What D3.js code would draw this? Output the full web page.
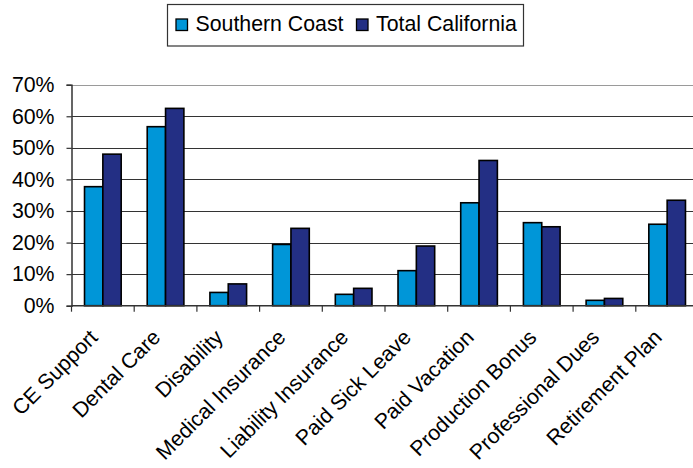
<!DOCTYPE html>
<html><head><meta charset="utf-8">
<script src="https://cdn.jsdelivr.net/npm/d3@7"></script>
<style>body{margin:0;background:#fff;} svg{display:block;}</style>
</head><body>
<svg id="c" width="693" height="468"></svg>
<script>
const categories = ["CE Support","Dental Care","Disability","Medical Insurance","Liability Insurance","Paid Sick Leave","Paid Vacation","Production Bonus","Professional Dues","Retirement Plan"];
const seriesNames = ["Southern Coast","Total California"];
const southernCoast = [0.377,0.567,0.042,0.194,0.036,0.111,0.326,0.263,0.017,0.258];
const totalCalifornia = [0.480,0.625,0.069,0.245,0.055,0.189,0.460,0.250,0.023,0.334];
const yTicks = [0,0.1,0.2,0.3,0.4,0.5,0.6,0.7];
const colors = ["#0096D8","#232F84"];

const svg = d3.select("#c");
const font = "Liberation Sans, Arial, sans-serif";
const fs = 21.3;
const x0 = 71.5, x1e = 698.5, yTop = 84.7, yBot = 305.7;
const x = d3.scaleBand().domain(categories).range([x0, x1e]).padding(0);
const xs = d3.scaleBand().domain(seriesNames).range([0, x.bandwidth()]).paddingInner(0).paddingOuter(0.71);
const y = d3.scaleLinear().domain([0,0.7]).range([yBot, yTop]);

// gridlines
svg.append("g").selectAll("line").data(yTicks.filter(d=>d>0)).join("line")
  .attr("x1", x0).attr("x2", 693)
  .attr("y1", d=>Math.round(y(d))+0.5).attr("y2", d=>Math.round(y(d))+0.5)
  .attr("stroke", d=> d===0.7 ? "#9a9a9a" : "#333").attr("stroke-width", 1.2);

// bars
const data = categories.map((c,i)=>({c, vals:[southernCoast[i], totalCalifornia[i]]}));
const g = svg.append("g");
data.forEach(d=>{
  d.vals.forEach((v,j)=>{
    g.append("rect")
      .attr("x", x(d.c)+xs(seriesNames[j]))
      .attr("y", y(v))
      .attr("width", xs.bandwidth())
      .attr("height", yBot - y(v))
      .attr("fill", colors[j])
      .attr("stroke", "#000").attr("stroke-width", 1.6);
  });
});

// y axis
const yAxis = d3.axisLeft(y).tickValues(yTicks).tickFormat(d3.format(".0%")).tickSizeOuter(0).tickSize(5).tickPadding(12);
const ya = svg.append("g").attr("transform", `translate(${x0},0)`).call(yAxis);
ya.select(".domain").attr("stroke","#333").attr("stroke-width",1.5);
ya.selectAll(".tick line").attr("stroke","#333").attr("stroke-width",1.2);
ya.selectAll("text").attr("font-family", font).attr("font-size", fs).attr("fill","#000");

// x axis
const bounds = categories.map(c=>x(c)).concat([x1e]);
const xa = svg.append("g");
xa.append("line").attr("x1", x0).attr("x2", 693).attr("y1", yBot).attr("y2", yBot).attr("stroke","#333").attr("stroke-width",1.5);
xa.selectAll("line.t").data(bounds).join("line").attr("class","t")
  .attr("x1", d=>d).attr("x2", d=>d).attr("y1", yBot).attr("y2", yBot+6)
  .attr("stroke","#333").attr("stroke-width",1.2);
xa.selectAll("text").data(categories).join("text")
  .attr("transform", d=>`translate(${x(d)+x.bandwidth()/2-4},${yBot+33}) rotate(-45)`)
  .attr("text-anchor","end")
  .attr("font-family", font).attr("font-size", fs).attr("fill","#000")
  .text(d=>d);

// legend
const lg = svg.append("g");
lg.append("rect").attr("x",167.5).attr("y",4.5).attr("width",356).attr("height",41.5)
  .attr("fill","#fff").attr("stroke","#333").attr("stroke-width",1.2);
const legX = [176, 356.5];
seriesNames.forEach((s,i)=>{
  lg.append("rect").attr("x",legX[i]).attr("y",19).attr("width",11.5).attr("height",11.5)
    .attr("fill",colors[i]).attr("stroke","#000").attr("stroke-width",1.3);
  lg.append("text").attr("x",legX[i]+19.5).attr("y",31).attr("font-family",font).attr("font-size",fs).attr("fill","#000").text(s);
});
</script>
</body></html>
